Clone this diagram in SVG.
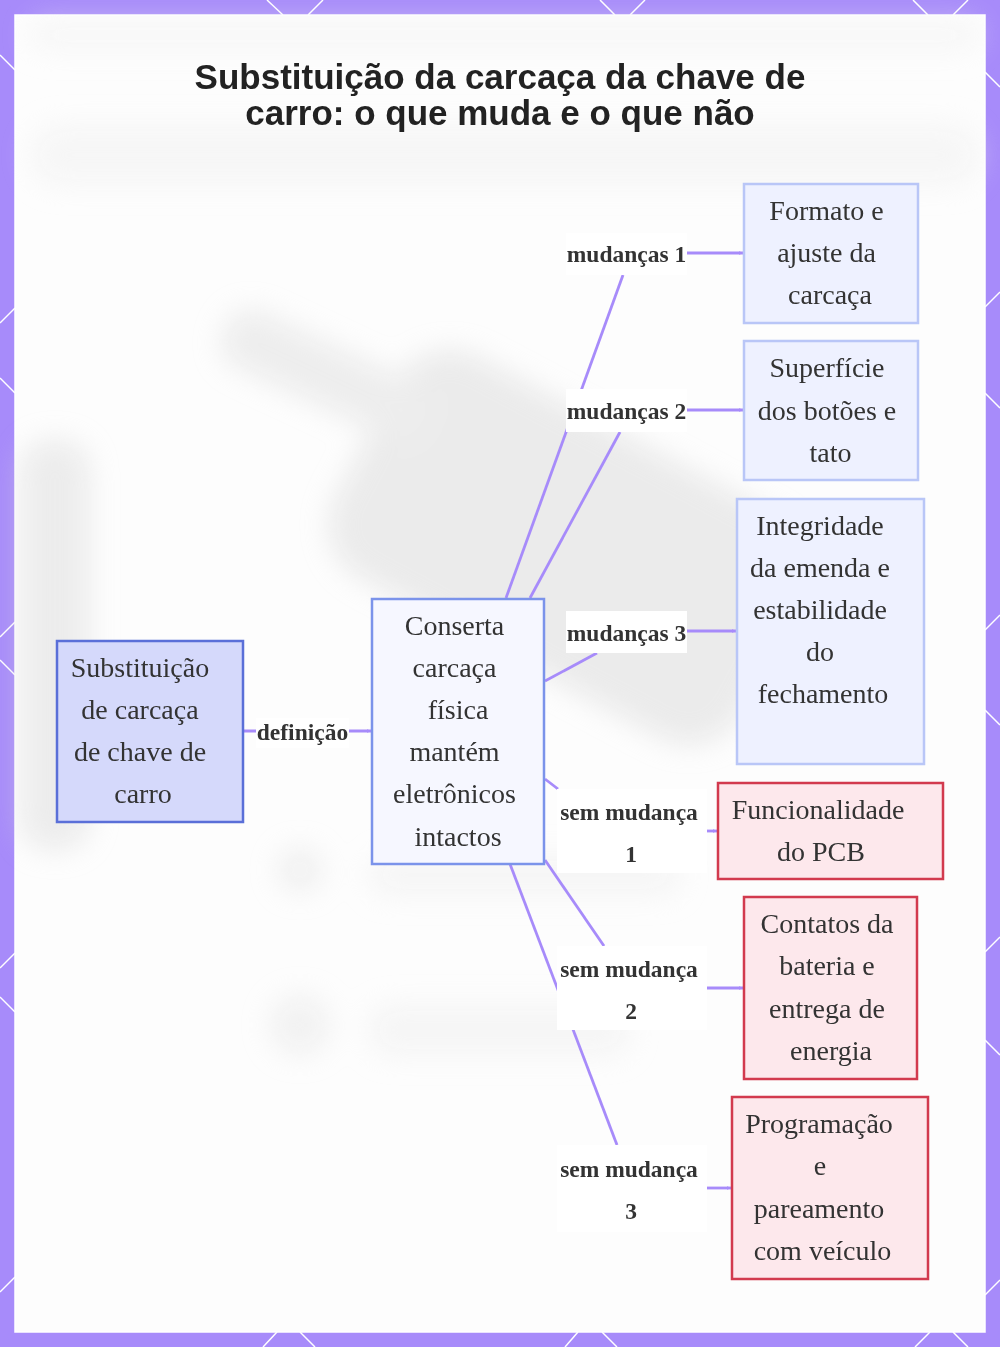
<svg xmlns="http://www.w3.org/2000/svg" width="1000" height="1347" viewBox="0 0 1000 1347">
<style>
.title{font-family:"Liberation Sans",Arial,sans-serif;font-weight:bold;font-size:35px;fill:#222;text-anchor:middle}
.nt{font-family:"Liberation Serif","Times New Roman",serif;font-size:28px;fill:#333;text-anchor:middle}
.lb{font-family:"Liberation Serif","Times New Roman",serif;font-weight:bold;font-size:23.5px;fill:#333;text-anchor:middle}
.edge{stroke:#a78bfa;stroke-width:2.8;fill:none}
.lbg{fill:#ffffff}
.deco{stroke:#ffffff;stroke-width:1.5}
.root{fill:#d5d9fb;stroke:#5a6fd8;stroke-width:2.5}
.mid{fill:#f6f7ff;stroke:#7b93ea;stroke-width:2.5}
.chg{fill:#eef1ff;stroke:#b9c6f7;stroke-width:2.5}
.keep{fill:#fde8ec;stroke:#d23a4e;stroke-width:2.5}
</style>
<defs>
<marker id="arr" viewBox="0 0 10 10" refX="9" refY="5" markerWidth="5" markerHeight="5" orient="auto" markerUnits="userSpaceOnUse">
<path d="M0,1 L10,5 L0,9 z" fill="#a78bfa"/>
</marker>
<filter id="blur" x="-50%" y="-50%" width="200%" height="200%"><feGaussianBlur stdDeviation="14"/></filter>
</defs>
<!-- frame -->
<rect x="0" y="0" width="1000" height="1347" fill="#a78bfa"/>
<g class="deco">
<line x1="267" y1="0" x2="283" y2="15"/><line x1="308" y1="15" x2="323" y2="0"/>
<line x1="600" y1="0" x2="615" y2="15"/><line x1="630" y1="15" x2="645" y2="0"/>
<line x1="913" y1="0" x2="928" y2="15"/><line x1="953" y1="15" x2="968" y2="0"/>
<line x1="0" y1="55" x2="15" y2="70"/><line x1="0" y1="323" x2="15" y2="308"/>
<line x1="0" y1="378" x2="15" y2="393"/><line x1="0" y1="637" x2="15" y2="622"/>
<line x1="0" y1="660" x2="15" y2="675"/><line x1="0" y1="968" x2="15" y2="953"/>
<line x1="0" y1="997" x2="15" y2="1012"/><line x1="0" y1="1292" x2="15" y2="1277"/>
<line x1="985" y1="72" x2="1000" y2="87"/><line x1="985" y1="307" x2="1000" y2="292"/>
<line x1="985" y1="393" x2="1000" y2="408"/><line x1="985" y1="630" x2="1000" y2="615"/>
<line x1="985" y1="710" x2="1000" y2="725"/><line x1="985" y1="952" x2="1000" y2="937"/>
<line x1="985" y1="1040" x2="1000" y2="1055"/><line x1="985" y1="1295" x2="1000" y2="1280"/>
<line x1="263" y1="1347" x2="277" y2="1332"/><line x1="300" y1="1332" x2="315" y2="1347"/>
<line x1="565" y1="1347" x2="578" y2="1332"/><line x1="602" y1="1332" x2="617" y2="1347"/>
<line x1="915" y1="1347" x2="930" y2="1332"/><line x1="953" y1="1332" x2="968" y2="1347"/>
</g>
<rect x="15" y="15" width="970" height="1317" fill="#fdfdfd" stroke="#ffffff" stroke-width="1.5"/>
<!-- faint blurred background -->
<g filter="url(#blur)" opacity="0.5">
<rect x="340" y="420" width="460" height="250" rx="60" fill="#d9d9d9" transform="rotate(28 565 545)"/>
<rect x="215" y="345" width="220" height="60" rx="25" fill="#dedede" transform="rotate(25 325 375)"/>
<rect x="20" y="440" width="70" height="410" rx="30" fill="#dcdcdc"/>
<rect x="30" y="125" width="950" height="60" rx="30" fill="#f0f0f0"/>
<rect x="30" y="20" width="950" height="30" rx="15" fill="#f2f2f2"/>
<circle cx="300" cy="870" r="22" fill="#e3e3e3"/>
<rect x="370" y="855" width="310" height="40" rx="18" fill="#eeeeee"/>
<circle cx="300" cy="1025" r="30" fill="#e6e6e6"/>
<rect x="370" y="1005" width="260" height="50" rx="20" fill="#eeeeee"/>
</g>
<!-- title -->
<text class="title" x="500" y="89">Substituição da carcaça da chave de</text>
<text class="title" x="500" y="125">carro: o que muda e o que não</text>
<!-- connectors -->
<g id="connectors">
<line class="edge" x1="244" y1="731" x2="371" y2="731" marker-end="url(#arr)"/>
<line class="edge" x1="506" y1="598" x2="623" y2="275"/>
<line class="edge" x1="530" y1="598" x2="620" y2="432"/>
<line class="edge" x1="545" y1="681" x2="597" y2="653"/>
<line class="edge" x1="545" y1="779" x2="558" y2="789"/>
<line class="edge" x1="545" y1="860" x2="604" y2="946"/>
<line class="edge" x1="510" y1="864" x2="617" y2="1145"/>
<line class="edge" x1="687" y1="253" x2="743" y2="253" marker-end="url(#arr)"/>
<line class="edge" x1="687" y1="410" x2="743" y2="410" marker-end="url(#arr)"/>
<line class="edge" x1="687" y1="631" x2="736" y2="631" marker-end="url(#arr)"/>
<line class="edge" x1="707" y1="831" x2="717" y2="831" marker-end="url(#arr)"/>
<line class="edge" x1="707" y1="988" x2="743" y2="988" marker-end="url(#arr)"/>
<line class="edge" x1="707" y1="1188" x2="731" y2="1188" marker-end="url(#arr)"/>
<rect class="lbg" x="256" y="718" width="93" height="30"/>
<text class="lb" x="302.5" y="740">definição</text>
<rect class="lbg" x="566" y="233" width="121" height="42"/>
<text class="lb" x="626.5" y="262">mudanças 1</text>
<rect class="lbg" x="566" y="389" width="121" height="43"/>
<text class="lb" x="626.5" y="419">mudanças 2</text>
<rect class="lbg" x="566" y="611" width="121" height="42"/>
<text class="lb" x="626.5" y="641">mudanças 3</text>
<rect class="lbg" x="557" y="789" width="150" height="84"/>
<text class="lb" x="629" y="820">sem mudança</text>
<text class="lb" x="631" y="862">1</text>
<rect class="lbg" x="557" y="946" width="150" height="84"/>
<text class="lb" x="629" y="977">sem mudança</text>
<text class="lb" x="631" y="1019">2</text>
<rect class="lbg" x="557" y="1145" width="150" height="87"/>
<text class="lb" x="629" y="1177">sem mudança</text>
<text class="lb" x="631" y="1219">3</text>
</g>
<!-- nodes -->
<g id="n-root">
<rect class="root" x="57" y="641" width="186" height="181"/>
<text class="nt" x="140" y="677">Substituição</text>
<text class="nt" x="140" y="719">de carcaça</text>
<text class="nt" x="140" y="761">de chave de</text>
<text class="nt" x="143" y="803">carro</text>
</g>
<g id="n-def">
<rect class="mid" x="372" y="599" width="172" height="265"/>
<text class="nt" x="454.5" y="635">Conserta</text>
<text class="nt" x="454.5" y="677">carcaça</text>
<text class="nt" x="458" y="719">física</text>
<text class="nt" x="454.5" y="761">mantém</text>
<text class="nt" x="454.5" y="803">eletrônicos</text>
<text class="nt" x="458" y="846">intactos</text>
</g>
<g id="n-c1">
<rect class="chg" x="744" y="184" width="174" height="139"/>
<text class="nt" x="826.5" y="220">Formato e</text>
<text class="nt" x="826.5" y="262">ajuste da</text>
<text class="nt" x="830" y="304">carcaça</text>
</g>
<g id="n-c2">
<rect class="chg" x="744" y="341" width="174" height="139"/>
<text class="nt" x="827" y="377">Superfície</text>
<text class="nt" x="827" y="420">dos botões e</text>
<text class="nt" x="830.5" y="462">tato</text>
</g>
<g id="n-c3">
<rect class="chg" x="737" y="499" width="187" height="265"/>
<text class="nt" x="820" y="535">Integridade</text>
<text class="nt" x="820" y="577">da emenda e</text>
<text class="nt" x="820" y="619">estabilidade</text>
<text class="nt" x="820" y="661">do</text>
<text class="nt" x="823" y="703">fechamento</text>
</g>
<g id="n-k1">
<rect class="keep" x="718" y="783" width="225" height="96"/>
<text class="nt" x="818" y="819">Funcionalidade</text>
<text class="nt" x="821" y="861">do PCB</text>
</g>
<g id="n-k2">
<rect class="keep" x="744" y="897" width="173" height="182"/>
<text class="nt" x="827" y="933">Contatos da</text>
<text class="nt" x="827" y="975">bateria e</text>
<text class="nt" x="827" y="1018">entrega de</text>
<text class="nt" x="831" y="1060">energia</text>
</g>
<g id="n-k3">
<rect class="keep" x="732" y="1097" width="196" height="182"/>
<text class="nt" x="819" y="1133">Programação</text>
<text class="nt" x="820" y="1175">e</text>
<text class="nt" x="819" y="1218">pareamento</text>
<text class="nt" x="822.5" y="1260">com veículo</text>
</g>
</svg>
